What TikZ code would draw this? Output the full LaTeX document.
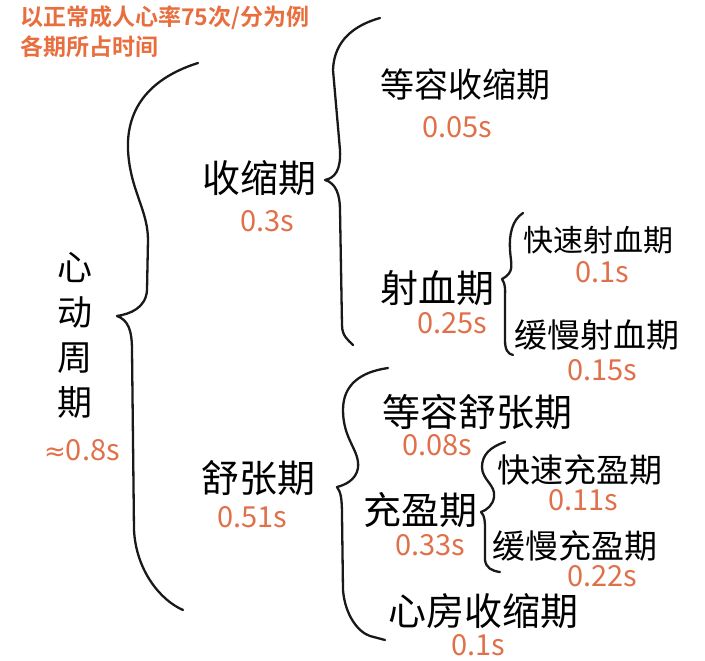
\documentclass[tikz,border=0pt]{standalone}
\usepackage{fontspec}
\setmainfont{Noto Sans CJK SC}[BoldFont={Noto Sans CJK SC Bold}]
\newfontfamily\symfont{DejaVu Sans}
\definecolor{durred}{RGB}{224,112,74}
\definecolor{notered}{RGB}{232,110,62}
\tikzset{
	stage/.style = {inner sep=0pt, text height=31pt, text depth=2pt, font=\fontsize{38}{42}\selectfont},
	phase/.style = {inner sep=0pt, text height=27pt, text depth=2pt, font=\fontsize{33}{36}\selectfont},
	dur/.style   = {inner sep=0pt, text=durred, font=\fontsize{29}{32}\selectfont},
	note/.style  = {inner sep=0pt, anchor=west, text=notered, font=\bfseries\fontsize{23}{26}\selectfont},
	brace/.style = {line width=2.3pt, line cap=round, line join=round}
}
\begin{document}
\begin{tikzpicture}[x=1pt,y=-1pt,draw=black!90]
	\useasboundingbox (0,0) rectangle (705,661);
	% note
	\node (N1) at (20,18)	[note]	{以正常成人心率75次/分为例};
	\node (N2) at (20,47)	[note]	{各期所占时间};
	% whole cycle
	\node (C)  at (75,335)	[inner sep=0pt, align=center, font=\fontsize{35}{45}\selectfont]	{心\\动\\周\\期};
	\node (CT) at (82,450)	[dur]	{{\symfont\fontsize{26}{30}\selectfont ≈}0.8s};
	\draw[brace] (198,63) .. controls (160,75) and (126,100) .. (128,150)
		.. controls (130,190) and (148,210) .. (148,240) -- (147,290)
		.. controls (146,308) and (130,314) .. (117,316)
		.. controls (128,320) and (132,330) .. (132,350) -- (134,530)
		.. controls (136,570) and (160,600) .. (183,610);
	% systole
	\node (S)   at (259,178)	[stage]	{收缩期};
	\node (ST)  at (267,221)	[dur]	{0.3s};
	\draw[brace] (380,18) .. controls (355,25) and (334,40) .. (333,70) -- (340,150)
		.. controls (341,170) and (335,178) .. (325,180)
		.. controls (336,183) and (340,195) .. (340,210) -- (342,325)
		.. controls (342,336) and (348,340) .. (353,345);
	\node (S1)  at (465,85)	[phase, text height=28pt, font=\fontsize{34}{36}\selectfont]	{等容收缩期};
	\node (S1T) at (457,127)	[dur]	{0.05s};
	\node (S2)  at (437,288)	[stage]	{射血期};
	\node (S2T) at (452,323)	[dur]	{0.25s};
	\draw[brace] (523,213) .. controls (512,220) and (509,235) .. (510,250)
		.. controls (511,265) and (515,272) .. (502,279)
		.. controls (506,285) and (505,290) .. (505,300) -- (505,340)
		.. controls (505,350) and (508,354) .. (513,355);
	\node (S21)  at (598,240)	[phase, text height=25pt, font=\fontsize{30}{33}\selectfont]	{快速射血期};
	\node (S21T) at (602,272)	[dur]	{0.1s};
	\node (S22)  at (597,335)	[phase]	{缓慢射血期};
	\node (S22T) at (602,370)	[dur]	{0.15s};
	% diastole
	\node (D)   at (258,478)	[stage]	{舒张期};
	\node (DT)  at (252,517)	[dur]	{0.51s};
	\draw[brace] (388,368) .. controls (360,372) and (343,385) .. (343,410)
		.. controls (343,440) and (360,450) .. (358,468)
		.. controls (356,480) and (345,485) .. (337,487)
		.. controls (341,492) and (342,500) .. (342,515) -- (343,590)
		.. controls (345,615) and (358,632) .. (370,636) -- (385,640);
	\node (D1)  at (477,412)	[stage]	{等容舒张期};
	\node (D1T) at (437,445)	[dur]	{0.08s};
	\node (D2)  at (420,510)	[stage]	{充盈期};
	\node (D2T) at (430,545)	[dur]	{0.33s};
	\draw[brace] (505,442) .. controls (490,447) and (482,455) .. (482,467)
		.. controls (482,480) and (496,485) .. (494,497)
		.. controls (493,505) and (487,510) .. (481,512)
		.. controls (485,516) and (485,522) .. (485,530) -- (485,560)
		.. controls (486,568) and (492,571) .. (500,572);
	\node (D21)  at (580,470)	[phase]	{快速充盈期};
	\node (D21T) at (583,500)	[dur]	{0.11s};
	\node (D22)  at (575,546)	[phase]	{缓慢充盈期};
	\node (D22T) at (602,576)	[dur]	{0.22s};
	\node (D3)  at (483,611)	[stage]	{心房收缩期};
	\node (D3T) at (478,645)	[dur]	{0.1s};
\end{tikzpicture}
\end{document}
